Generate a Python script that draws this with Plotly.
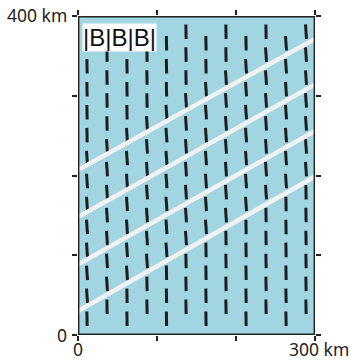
import plotly.graph_objects as go
import math

# ---- data (km) ----
col_x = [11.4, 36.7, 62.0, 87.3, 112.0, 136.7, 162.0, 187.3, 212.7, 238.0, 263.3, 288.6]
rows_even = [20.4, 49.2, 78.0, 106.7, 135.5, 164.3, 193.1, 221.9, 250.6, 279.4, 308.2, 337.0, 365.8]
rows_odd = [35.4, 64.1, 92.9, 121.6, 150.4, 179.1, 207.9, 236.6, 265.3, 294.1, 322.8, 351.6, 380.3]
# tilt (degrees, clockwise from vertical) of each bar, bottom row first, one list per column
tilt = [
    [1, 4, 4, 4, 4, 4, 4, 4, 1, 1, 1, 1, 1],
    [1, 4, 4, 4, 4, 4, 4, 4, 1, 1, 1, 1, 1],
    [1, 1, 4, 4, 4, 4, 4, 4, 4, 1, 1, 1, 1],
    [1, 1, 4, 4, 4, 4, 4, 4, 4, 1, 1, 1, 1],
    [1, 1, 1, 4, 4, 4, 4, 4, 4, 4, 1, 1, 1],
    [1, 1, 1, 4, 4, 4, 4, 4, 4, 4, 1, 1, 1],
    [1, 1, 1, 1, 4, 4, 4, 4, 4, 4, 4, 1, 1],
    [1, 1, 1, 1, 4, 4, 4, 4, 4, 4, 4, 1, 1],
    [1, 1, 1, 1, 1, 4, 4, 4, 4, 4, 4, 4, 1],
    [1, 1, 1, 1, 1, 4, 4, 4, 4, 4, 4, 4, 1],
    [1, 1, 1, 1, 1, 1, 4, 4, 4, 4, 4, 4, 4],
    [1, 1, 1, 1, 1, 1, 4, 4, 4, 4, 4, 4, 4],
]
bar_length = 18.2
band_left_y = [206.9, 148.0, 88.4, 30.1]
band_right_y = [371.2, 314.1, 255.8, 198.7]
x_ticks = [0, 100, 200, 300]
y_ticks = [0, 100, 200, 300, 400]

BLUE = "#a1d5e2"
INK = "#1e1e1e"
FONT = "Noto Sans"

fig = go.Figure()

# bars
bx, by = [], []
h = bar_length / 2
for i, x in enumerate(col_x):
    rows = rows_even if i % 2 == 0 else rows_odd
    for k, y in enumerate(rows):
        a = math.radians(tilt[i][k])
        bx += [x - h * math.sin(a), x + h * math.sin(a), None]
        by += [y + h * math.cos(a), y - h * math.cos(a), None]
fig.add_trace(go.Scatter(x=bx, y=by, mode="lines",
                         line=dict(color=INK, width=3), hoverinfo="skip"))

# white bands
for yl, yr in zip(band_left_y, band_right_y):
    fig.add_trace(go.Scatter(x=[0, 300], y=[yl, yr], mode="lines",
                             line=dict(color="#f2f2f2", width=4.5), hoverinfo="skip"))

fig.add_shape(type="rect", xref="x", yref="y", x0=0, x1=300, y0=0, y1=400,
              line=dict(color="#222222", width=2.8), layer="above")

axis_common = dict(showgrid=False, zeroline=False, showticklabels=False,
                   ticks="outside", ticklen=5, tickwidth=1.5, tickcolor="#222222",
                   showline=False, mirror="ticks", fixedrange=True)
fig.update_xaxes(range=[0, 300], tickvals=x_ticks, **axis_common)
fig.update_yaxes(range=[0, 400], tickvals=y_ticks, **axis_common)

tfont = dict(family=FONT, size=17.5, color="#222222")
ann = [
    dict(text="400 km", xref="paper", x=0, yref="y", y=400, xanchor="right",
         yanchor="middle", xshift=-10, yshift=1, showarrow=False, font=tfont, borderpad=0),
    dict(text="0", xref="paper", x=0, yref="y", y=0, xanchor="right",
         yanchor="middle", xshift=-10, showarrow=False, font=tfont, borderpad=0),
    dict(text="0", xref="x", x=0, yref="paper", y=0, xanchor="center",
         yanchor="middle", yshift=-13.5, showarrow=False, font=tfont, borderpad=0),
    dict(text="300 km", xref="x", x=300, yref="paper", y=0, xanchor="right",
         yanchor="middle", yshift=-13.5, xshift=35, showarrow=False, font=tfont, borderpad=0),
    dict(text="|B|B|B|", xref="x", x=52.0, yref="y", y=373.0, xanchor="center",
         yanchor="middle", showarrow=False, bgcolor="white", borderpad=0,
         font=dict(family="Liberation Sans", size=24, color="#111111")),
]
fig.update_layout(width=351, height=361, margin=dict(l=78, r=36, t=16, b=26),
                  plot_bgcolor=BLUE, paper_bgcolor="white", showlegend=False,
                  annotations=ann)

fig.write_html("out.html")
